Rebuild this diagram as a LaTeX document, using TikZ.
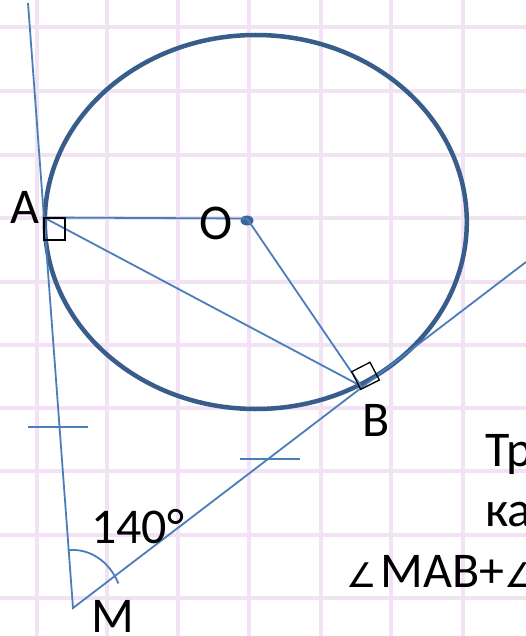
\documentclass[tikz,border=0pt]{standalone}
\usepackage{fontspec}
\setmainfont{Carlito}
\newfontfamily\symfont{DejaVu Sans}
\definecolor{gridc}{RGB}{241,227,244}
\definecolor{circc}{RGB}{56,93,138}
\definecolor{linec}{RGB}{74,126,187}
\definecolor{dotc}{RGB}{60,100,155}
\begin{document}
\begin{tikzpicture}[x=1pt,y=-1pt,
  gridline/.style={gridc,line width=3.5pt},
  geo/.style={linec,line width=1.8pt},
  rightmark/.style={black,line width=1.3pt},
  lbl/.style={inner sep=0pt,anchor=base west,font=\fontsize{50}{56}\selectfont}]
\useasboundingbox (0,0) rectangle (526,636);
\clip (0,0) rectangle (526,636);
\fill[white] (0,0) rectangle (526,636);
% squared paper
\foreach \x in {37,107,178,249,321,391,463} \draw[gridline] (\x,0) -- (\x,636);
\foreach \y in {27,91,155,218,282,345,408,471,535,598} \draw[gridline] (0,\y) -- (526,\y);
% points
\coordinate (T) at (28,3);
\coordinate (A) at (43.9,217.5);
\coordinate (O) at (247,218.5);
\coordinate (B) at (361,386);
\coordinate (M) at (73,608);
\coordinate (E) at (526,262);
% circle
\draw[circc,line width=4.5pt] (255.8,222) ellipse [x radius=211pt, y radius=187pt];
\fill[dotc] (247,220.5) ellipse [x radius=6.5pt, y radius=5pt];
% tangents and segments
\draw[geo,line join=miter] (T) -- (M) -- (E);
\draw[geo] (A) -- (O);
\draw[geo] (A) -- (B);
\draw[geo] (O) -- (B);
% equal-length ticks
\draw[geo] (28,427) -- (88,427);
\draw[geo] (240,459) -- (300,459);
% right angle marks
\draw[rightmark] (44,218) rectangle (65,240);
\draw[rightmark] (360.7,389.3) -- (379.3,380) -- (370,362.3) -- (351.7,371.7) -- cycle;
% angle arc at M
\draw[geo] (67.8,550.3) arc[start angle=96, end angle=25, x radius=50pt, y radius=58pt];
% labels
\node[lbl] (lA) at (10,223) {A};
\node[lbl] (lO) at (199,239) {O};
\node[lbl] (lB) at (362,436) {B};
\node[lbl] (lM) at (91,632) {M};
\node[lbl] (l140) at (91,543) {140°};
\node[lbl] (t1) at (485.5,466) {Тр};
\node[lbl] (t2) at (485,526) {ка};
\node[lbl] (t3) at (346,587) {{\symfont\fontsize{34}{38}\selectfont ∠}\hspace{4pt}MAB+{\symfont\fontsize{34}{38}\selectfont ∠}};
\end{tikzpicture}
\end{document}
